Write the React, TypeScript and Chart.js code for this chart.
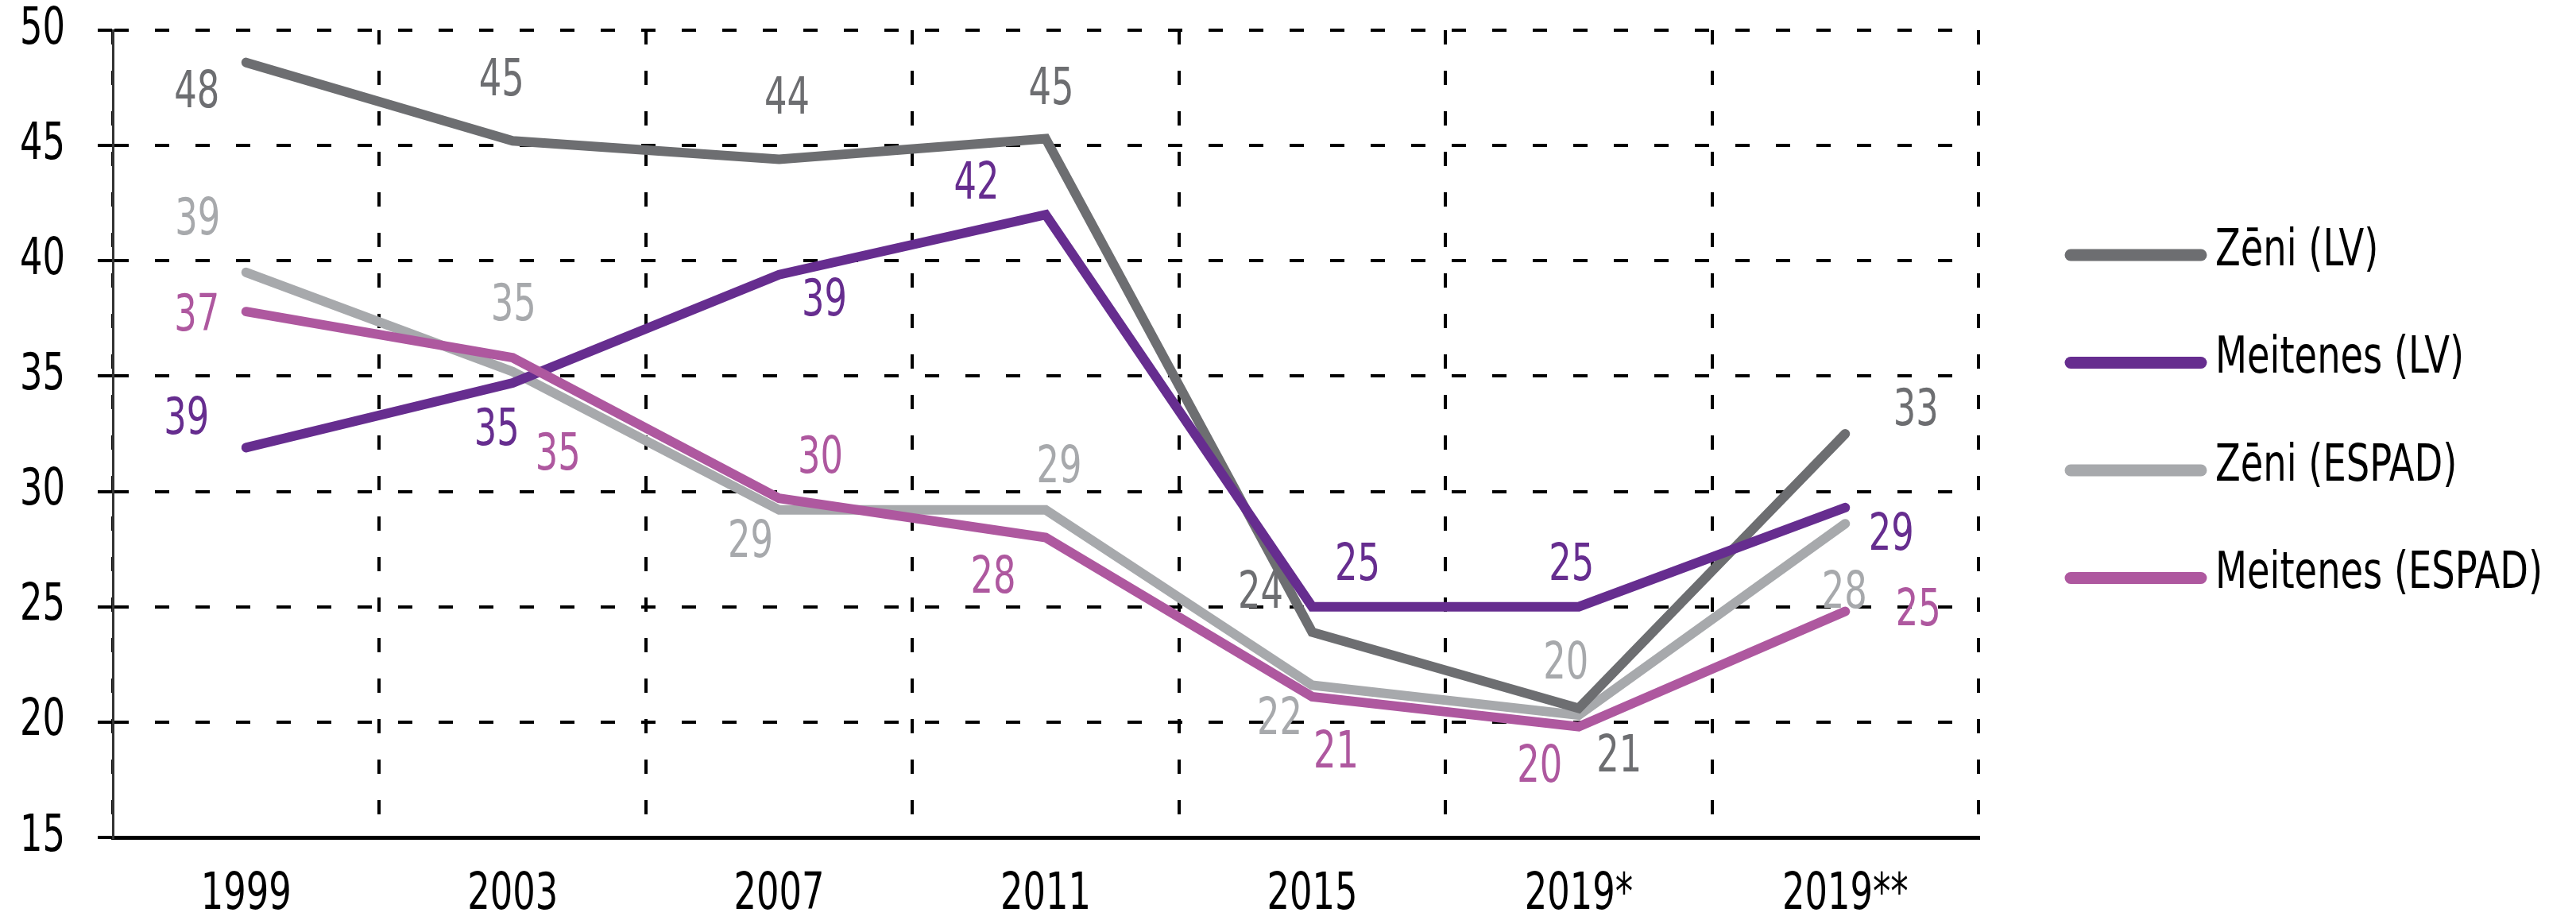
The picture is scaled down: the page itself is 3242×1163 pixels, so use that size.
import React, { useEffect, useRef } from 'react';
import { Chart, registerables } from 'chart.js';

Chart.register(...registerables);

// ---------- data ----------
const categories = ['1999', '2003', '2007', '2011', '2015', '2019*', '2019**'];
const seriesNames = ['Zēni (LV)', 'Meitenes (LV)', 'Zēni (ESPAD)', 'Meitenes (ESPAD)'];

const zeniLV = [48.6, 45.2, 44.4, 45.3, 23.9, 20.6, 32.5];
const meitenesLV = [31.9, 34.7, 39.4, 42.0, 25.0, 25.0, 29.3];
const zeniESPAD = [39.5, 35.2, 29.2, 29.2, 21.6, 20.3, 28.6];
const meitenesESPAD = [37.8, 35.8, 29.7, 28.0, 21.1, 19.8, 24.8];

// value labels as printed on the chart
const zeniLVLabels = ['48', '45', '44', '45', '24', '21', '33'];
const meitenesLVLabels = ['39', '35', '39', '42', '25', '25', '29'];
const zeniESPADLabels = ['39', '35', '29', '29', '22', '20', '28'];
const meitenesESPADLabels = ['37', '35', '30', '28', '21', '20', '25'];

const yMin = 15;
const yMax = 50;
const yStep = 5;

// ---------- styles ----------
const FONT = "'DejaVu Sans Condensed', 'Liberation Sans Narrow', 'DejaVu Sans', sans-serif";
const FONT_SIZE = 64;
const DIGIT_WIDTH = 28.5; // target advance of one digit (condensed face)
const LEGEND_WIDTH = 412; // target width of the longest legend entry
const colors = ['#6d6e71', '#662d8f', '#a7a9ac', '#ae589f'];

// label placement relative to each point (px)
const labelOffsets: number[][][] = [
  [[-62, 40], [-14, -74], [10, -74], [7, -60], [-65, -47], [51, 63], [89, -28]],
  [[-75, -34], [-20, 61], [57, 35], [-87, -37], [57, -50], [-9, -50], [58, 36]],
  [[-61, -64], [1, -81], [-36, 43], [17, -51], [-41, 45], [-16, -63], [-1, 89]],
  [[-62, 7], [57, 124], [52, -49], [-66, 53], [30, 72], [-49, 53], [92, 1]],
];

const seriesValues = [zeniLV, meitenesLV, zeniESPAD, meitenesESPAD];
const seriesLabels = [zeniLVLabels, meitenesLVLabels, zeniESPADLabels, meitenesESPADLabels];
const drawOrder = [2, 1, 3, 0];

function condensedText(
  ctx: CanvasRenderingContext2D,
  text: string,
  x: number,
  y: number,
  sx: number,
  align: CanvasTextAlign
) {
  ctx.save();
  ctx.translate(x, y);
  ctx.scale(sx, 1);
  ctx.textAlign = align;
  ctx.textBaseline = 'middle';
  ctx.fillText(text, 0, 0);
  ctx.restore();
}

function digitScale(ctx: CanvasRenderingContext2D) {
  ctx.font = `${FONT_SIZE}px ${FONT}`;
  const w = ctx.measureText('0').width || DIGIT_WIDTH;
  return Math.min(1, DIGIT_WIDTH / w);
}

const axisLabelPlugin = {
  id: 'axisLabels',
  afterDraw(chart: any) {
    const ctx = chart.ctx as CanvasRenderingContext2D;
    const { chartArea } = chart;
    ctx.save();
    const sx = digitScale(ctx);
    ctx.fillStyle = '#000';
    const ys = chart.scales.y;
    ys.ticks.forEach((t: any) => {
      condensedText(ctx, String(t.value), chartArea.left - 60, ys.getPixelForValue(t.value), sx, 'right');
    });
    const xs = chart.scales.x;
    categories.forEach((c, i) => {
      condensedText(ctx, c, xs.getPixelForValue(i), chartArea.bottom + 73, sx, 'center');
    });
    ctx.restore();
  },
};

const valueLabelPlugin = {
  id: 'valueLabels',
  afterDatasetsDraw(chart: any) {
    const ctx = chart.ctx as CanvasRenderingContext2D;
    ctx.save();
    const sx = digitScale(ctx);
    chart.data.datasets.forEach((_ds: any, di: number) => {
      const meta = chart.getDatasetMeta(di);
      ctx.fillStyle = colors[di];
      meta.data.forEach((pt: any, i: number) => {
        const off = labelOffsets[di][i];
        condensedText(ctx, seriesLabels[di][i], pt.x + off[0], pt.y + off[1], sx, 'center');
      });
    });
    ctx.restore();
  },
};

const sideLegendPlugin = {
  id: 'sideLegend',
  afterDraw(chart: any) {
    const ctx = chart.ctx as CanvasRenderingContext2D;
    const { chartArea } = chart;
    ctx.save();
    ctx.font = `${FONT_SIZE}px ${FONT}`;
    const longest = seriesNames.reduce((a, b) => (ctx.measureText(b).width > ctx.measureText(a).width ? b : a));
    const sx = Math.min(1, LEGEND_WIDTH / ctx.measureText(longest).width);
    chart.data.datasets.forEach((ds: any, i: number) => {
      const y = chartArea.top + 283 + i * 135.5;
      const x0 = chartArea.right + 109;
      ctx.strokeStyle = ds.borderColor;
      ctx.lineWidth = 15;
      ctx.lineCap = 'round';
      ctx.beginPath();
      ctx.moveTo(x0 + 7, y);
      ctx.lineTo(x0 + 171, y);
      ctx.stroke();
      ctx.fillStyle = '#000';
      condensedText(ctx, ds.label, x0 + 189, y - 4, sx, 'left');
    });
    ctx.restore();
  },
};

export default function App() {
  const canvasRef = useRef<HTMLCanvasElement | null>(null);

  useEffect(() => {
    const canvas = canvasRef.current;
    if (!canvas) return;
    const chart = new Chart(canvas, {
      type: 'line',
      data: {
        labels: categories,
        datasets: seriesNames.map((name, i) => ({
          label: name,
          data: seriesValues[i],
          borderColor: colors[i],
          backgroundColor: colors[i],
          borderWidth: 12,
          pointRadius: 0,
          pointHoverRadius: 0,
          tension: 0,
          fill: false,
          borderCapStyle: 'round',
          borderJoinStyle: 'miter',
          order: drawOrder[i],
        })),
      },
      options: {
        responsive: false,
        animation: false,
        devicePixelRatio: 1,
        layout: { padding: { top: 38, right: 752, bottom: 0, left: 0 } },
        plugins: {
          legend: { display: false },
          tooltip: { enabled: false },
        },
        scales: {
          x: {
            type: 'category',
            offset: true,
            grid: {
              offset: true,
              color: '#000',
              lineWidth: 4,
              drawTicks: false,
            },
            border: { display: true, color: '#000', width: 5, dash: [18, 33] },
            ticks: { display: false, autoSkip: false },
            afterFit: (scale: any) => {
              scale.height = 109;
            },
          },
          y: {
            min: yMin,
            max: yMax,
            grid: {
              color: '#000',
              lineWidth: 4,
              drawTicks: true,
              tickLength: 19,
              tickColor: '#000',
              tickWidth: 4,
            },
            border: { display: true, color: '#333', width: 3, dash: [18, 33] },
            ticks: { display: false, stepSize: yStep },
            afterFit: (scale: any) => {
              scale.width = 142;
            },
          },
        },
      },
      plugins: [valueLabelPlugin, axisLabelPlugin, sideLegendPlugin],
    } as any);
    return () => chart.destroy();
  }, []);

  return (
    <div
      style={{
        position: 'fixed',
        left: 0,
        top: 0,
        width: 3242,
        height: 1163,
        background: '#fff',
      }}
    >
      <canvas ref={canvasRef} width={3242} height={1163} style={{ display: 'block' }} />
    </div>
  );
}
